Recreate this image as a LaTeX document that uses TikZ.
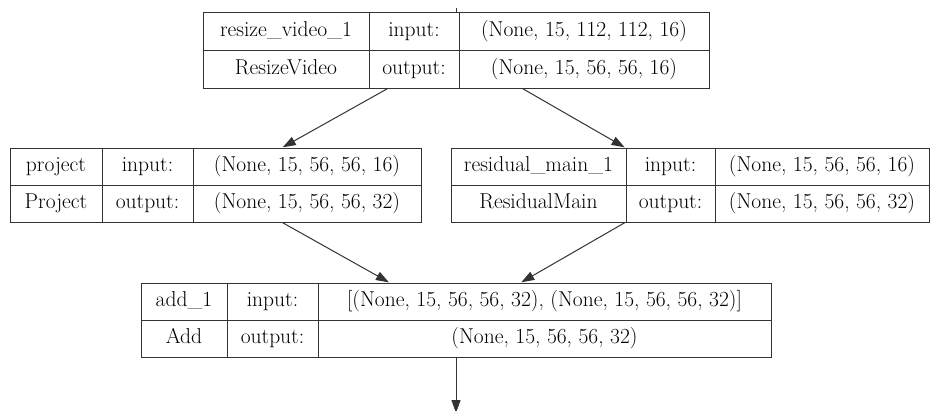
\documentclass[tikz,border=0pt]{standalone}
\usetikzlibrary{arrows.meta, fit}

\tikzset{
  cell/.style={draw=black!80, line width=1pt, inner sep=0pt, minimum height=37pt,
               text height=14pt, text depth=4pt,
               font=\rmfamily\fontsize{21.5}{24}\selectfont},
  record/.style={inner sep=0pt},
  edge/.style={draw=black!80, line width=1pt, -{Triangle[length=13pt, width=9pt]}}
}

\begin{document}
\begin{tikzpicture}[x=1pt, y=-1pt]
  \clip (0,0) rectangle (933,410);

  % resize_video_1
  \node[cell, minimum width=166pt, minimum height=37.75pt] (rv-name) at (286,31.375) {resize\_video\_1};
  \node[cell, minimum width=90pt, minimum height=37.75pt] (rv-in) at (414,31.375) {input:};
  \node[cell, minimum width=250pt, minimum height=37.75pt] (rv-inval) at (584,31.375) {(None, 15, 112, 112, 16)};
  \node[cell, minimum width=166pt, minimum height=37.75pt] (rv-class) at (286,69.125) {ResizeVideo};
  \node[cell, minimum width=90pt, minimum height=37.75pt] (rv-out) at (414,69.125) {output:};
  \node[cell, minimum width=250pt, minimum height=37.75pt] (rv-outval) at (584,69.125) {(None, 15, 56, 56, 16)};
  \node[record, fit=(rv-name)(rv-outval)] (resize) {};

  % project
  \node[cell, minimum width=92pt] (pr-name) at (56,166.5) {project};
  \node[cell, minimum width=91pt] (pr-in) at (147.5,166.5) {input:};
  \node[cell, minimum width=228pt] (pr-inval) at (307,166.5) {(None, 15, 56, 56, 16)};
  \node[cell, minimum width=92pt] (pr-class) at (56,203.5) {Project};
  \node[cell, minimum width=91pt] (pr-out) at (147.5,203.5) {output:};
  \node[cell, minimum width=228pt] (pr-outval) at (307,203.5) {(None, 15, 56, 56, 32)};
  \node[record, fit=(pr-name)(pr-outval)] (project) {};

  % residual_main_1
  \node[cell, minimum width=175pt] (rm-name) at (538.5,166.5) {residual\_main\_1};
  \node[cell, minimum width=89pt] (rm-in) at (670.5,166.5) {input:};
  \node[cell, minimum width=214pt] (rm-inval) at (822,166.5) {(None, 15, 56, 56, 16)};
  \node[cell, minimum width=175pt] (rm-class) at (538.5,203.5) {ResidualMain};
  \node[cell, minimum width=89pt] (rm-out) at (670.5,203.5) {output:};
  \node[cell, minimum width=214pt] (rm-outval) at (822,203.5) {(None, 15, 56, 56, 32)};
  \node[record, fit=(rm-name)(rm-outval)] (residual) {};

  % add_1
  \node[cell, minimum width=86pt] (ad-name) at (184,301.5) {add\_1};
  \node[cell, minimum width=91pt] (ad-in) at (272.5,301.5) {input:};
  \node[cell, minimum width=453pt] (ad-inval) at (544.5,301.5) {[(None, 15, 56, 56, 32), (None, 15, 56, 56, 32)]};
  \node[cell, minimum width=86pt] (ad-class) at (184,338.5) {Add};
  \node[cell, minimum width=91pt] (ad-out) at (272.5,338.5) {output:};
  \node[cell, minimum width=453pt] (ad-outval) at (544.5,338.5) {(None, 15, 56, 56, 32)};
  \node[record, fit=(ad-name)(ad-outval)] (add) {};

  % edges
  \coordinate (from-above) at (456,8);
  \coordinate (to-below) at (456,413);
  \draw[draw=black!80, line width=1pt] (from-above) -- (resize);
  \draw[edge] (resize) -- (project);
  \draw[edge] (resize) -- (residual);
  \draw[edge] (project) -- (add);
  \draw[edge] (residual) -- (add);
  \draw[edge] (add) -- (to-below);
\end{tikzpicture}
\end{document}
